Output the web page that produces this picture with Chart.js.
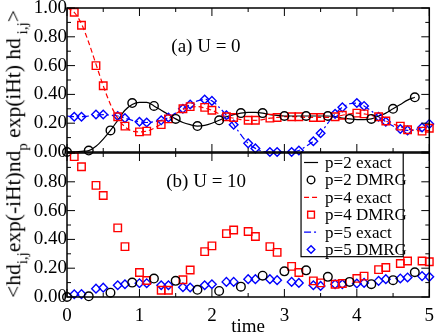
<!DOCTYPE html>
<html>
<head>
<meta charset="utf-8">
<script src="https://cdn.jsdelivr.net/npm/chart.js@4/dist/chart.umd.min.js"></script>
<style>
body { margin: 0; background: #fff; }
#wrap { position: relative; width: 436px; height: 335px; overflow: hidden; }
canvas { position: absolute; left: 0; top: 0; }
#ytitle {
    position: absolute; left: 14px; top: 154px;
    font-family: "Liberation Serif", serif; font-size: 21.5px; color: #000;
    white-space: nowrap; line-height: 1;
    transform: translate(-50%, -50%) rotate(-90deg);
}
#ytitle sub { font-size: 15px; vertical-align: -7px; line-height: 0; }
</style>
</head>
<body>
<div id="wrap">
    <canvas id="topChart" width="436" height="335"></canvas>
    <canvas id="bottomChart" width="436" height="335"></canvas>
    <div id="ytitle">&lt;hd<sub>i,j</sub>exp(-iHt)nd<sub>p</sub> exp(iHt) hd<sub>&nbsp;i,j</sub>&gt;</div>
</div>
<script>
// time grids
const tExact = [0,0.1,0.2,0.3,0.4,0.5,0.6,0.7,0.8,0.9,1.0,1.1,1.2,1.3,1.4,1.5,1.6,1.7,1.8,1.9,2.0,
    2.1,2.2,2.3,2.4,2.5,2.6,2.7,2.8,2.9,3.0,3.1,3.2,3.3,3.4,3.5,3.6,3.7,3.8,3.9,4.0,
    4.1,4.2,4.3,4.4,4.5,4.6,4.7,4.8,4.9,5.0];
const tCircle = [0,0.3,0.6,0.9,1.2,1.5,1.8,2.1,2.4,2.7,3.0,3.3,3.6,3.9,4.2,4.5,4.8];
const tPair = [0.1,0.2,0.4,0.5,0.7,0.8,1.0,1.1,1.3,1.4,1.6,1.7,1.9,2.0,2.2,2.3,2.5,2.6,
    2.8,2.9,3.1,3.2,3.4,3.5,3.7,3.8,4.0,4.1,4.3,4.4,4.6,4.7,4.9,5.0];

// (a) U = 0
const p2ExactA = [0,0,0.005,0.01,0.04,0.09,0.15,0.22,0.29,0.33,0.345,0.345,0.32,0.29,0.26,0.23,
    0.205,0.19,0.18,0.185,0.2,0.22,0.245,0.26,0.27,0.275,0.275,0.27,0.26,0.255,0.25,0.25,0.25,
    0.25,0.25,0.25,0.25,0.245,0.235,0.23,0.225,0.225,0.23,0.25,0.27,0.3,0.33,0.36,0.38];
const p4ExactA = [1.0,0.97,0.89,0.76,0.61,0.46,0.33,0.235,0.175,0.145,0.14,0.145,0.165,0.195,
    0.23,0.265,0.295,0.31,0.315,0.305,0.29,0.265,0.245,0.235,0.225,0.22,0.22,0.225,0.235,0.24,
    0.245,0.245,0.245,0.24,0.24,0.24,0.24,0.245,0.255,0.265,0.27,0.265,0.255,0.24,0.215,0.195,
    0.175,0.16,0.15,0.145,0.15];
const p5ExactA = [0.25,0.245,0.245,0.25,0.255,0.26,0.255,0.25,0.235,0.22,0.21,0.205,0.21,0.22,
    0.24,0.27,0.3,0.33,0.355,0.365,0.355,0.31,0.255,0.19,0.12,0.06,0.025,0.005,0,0,0,0,0.01,
    0.04,0.075,0.13,0.2,0.265,0.31,0.335,0.34,0.32,0.285,0.245,0.21,0.18,0.16,0.15,0.155,0.17,0.195];
const p2DmrgA = [0,0.01,0.15,0.34,0.32,0.23,0.18,0.22,0.27,0.27,0.25,0.25,0.25,0.23,0.23,0.3,0.38];
const p4DmrgA = [0.97,0.88,0.6,0.46,0.245,0.18,0.14,0.145,0.19,0.23,0.3,0.315,0.31,0.29,0.245,0.24,
    0.22,0.22,0.235,0.24,0.245,0.245,0.24,0.24,0.245,0.255,0.27,0.265,0.245,0.215,0.18,0.155,0.145,0.165];
const p5DmrgA = [0.245,0.245,0.26,0.26,0.25,0.235,0.21,0.205,0.22,0.24,0.3,0.33,0.365,0.355,0.255,0.19,
    0.06,0.025,0,0,0,0.01,0.075,0.13,0.265,0.31,0.34,0.32,0.245,0.21,0.16,0.15,0.17,0.195];

// (b) U = 10
const p2DmrgB = [0,0.005,0.03,0.1,0.128,0.112,0.05,0.042,0.072,0.148,0.178,0.185,0.14,0.105,0.089,0.117,0.172];
const p4DmrgB = [0.975,0.905,0.775,0.705,0.48,0.35,0.17,0.115,0.047,0.047,0.12,0.187,0.315,0.355,0.44,0.465,
    0.455,0.42,0.35,0.31,0.213,0.17,0.112,0.098,0.089,0.094,0.129,0.145,0.19,0.205,0.233,0.25,0.25,0.245];
const p5DmrgB = [0.019,0.02,0.058,0.065,0.082,0.089,0.096,0.096,0.082,0.082,0.068,0.066,0.082,0.089,0.105,0.105,
    0.124,0.124,0.124,0.117,0.105,0.098,0.082,0.077,0.089,0.089,0.094,0.098,0.112,0.124,0.129,0.136,0.145,0.14];

const legendLabels = ['p=2 exact', 'p=2 DMRG', 'p=4 exact', 'p=4 DMRG', 'p=5 exact', 'p=5 DMRG'];

Chart.defaults.font.family = '"Liberation Serif", serif';
Chart.defaults.font.size = 19;
Chart.defaults.color = '#000';

const BLACK = '#000000', RED = '#ff0000', BLUE = '#0000ff';
const styles = [
    { type: 'line', color: BLACK, dash: [] },
    { type: 'point', color: BLACK, point: 'circle', r: 4.3 },
    { type: 'line', color: RED, dash: [5, 3] },
    { type: 'point', color: RED, point: 'rect', r: 5.3 },
    { type: 'line', color: BLUE, dash: [7, 3, 2, 3] },
    { type: 'point', color: BLUE, point: 'rectRot', r: 4.3 }
];

function xy(ts, vs) {
    return vs.map((v, i) => ({ x: ts[i], y: v }));
}
function exactSet(label, vals, st) {
    return {
        label, data: xy(tExact, vals), borderColor: st.color, borderWidth: 1.2,
        borderDash: st.dash, pointRadius: 0, cubicInterpolationMode: 'monotone',
        fill: false, clip: false, order: 2
    };
}
function dmrgSet(label, ts, vals, st) {
    return {
        label, data: xy(ts, vals), showLine: false, pointStyle: st.point, pointRadius: st.r,
        pointBorderColor: st.color, pointBackgroundColor: 'rgba(0,0,0,0)', pointBorderWidth: 1.4,
        clip: false, order: 1
    };
}

// box frame with inward ticks on all four sides
const framePlugin = {
    id: 'frame',
    afterDatasetsDraw(chart, args, opts) {
        const { ctx, chartArea: a, scales: { x, y } } = chart;
        ctx.save();
        ctx.strokeStyle = '#000';
        ctx.lineWidth = 1;
        const seg = (x1, y1, x2, y2) => { ctx.beginPath(); ctx.moveTo(x1, y1); ctx.lineTo(x2, y2); ctx.stroke(); };
        for (let k = 0; k <= 10; k++) {
            const px = x.getPixelForValue(k * 0.5);
            const len = k % 2 === 0 ? 8 : 4;
            seg(px, a.bottom, px, a.bottom - len);
            seg(px, a.top, px, a.top + len);
        }
        for (let k = 0; k <= 10; k++) {
            const py = y.getPixelForValue(k * 0.1);
            const len = k % 2 === 0 ? 8 : 4;
            seg(a.left, py, a.left + len, py);
            seg(a.right, py, a.right - len, py);
        }
        ctx.lineWidth = 1.5;
        ctx.strokeRect(a.left, a.top, a.right - a.left, a.bottom - a.top);
        if (opts.label) {
            ctx.font = '19px "Liberation Serif"';
            ctx.fillStyle = '#000';
            ctx.textBaseline = 'middle';
            ctx.fillText(opts.label.text, x.getPixelForValue(opts.label.x), y.getPixelForValue(opts.label.y));
        }
        ctx.restore();
    }
};

// legend box inside panel (b)
const legendPlugin = {
    id: 'boxLegend',
    afterDraw(chart, args, opts) {
        if (!opts.show) return;
        const { ctx, scales: { x, y } } = chart;
        const left = x.getPixelForValue(3.23), right = x.getPixelForValue(4.64);
        const top = y.getPixelForValue(1.0), bottom = y.getPixelForValue(0.28);
        ctx.save();
        ctx.fillStyle = '#fff';
        ctx.fillRect(left, top, right - left, bottom - top);
        ctx.strokeStyle = '#000';
        ctx.lineWidth = 1.2;
        ctx.strokeRect(left, top, right - left, bottom - top);
        ctx.font = '17px "Liberation Serif"';
        ctx.textBaseline = 'middle';
        legendLabels.forEach((txt, i) => {
            const st = styles[i];
            const ry = top + 9.5 + i * 17.4;
            const cx = left + 10;
            if (st.type === 'line') {
                ctx.strokeStyle = st.color;
                ctx.lineWidth = 1.2;
                ctx.setLineDash(st.dash);
                ctx.beginPath(); ctx.moveTo(cx - 7, ry); ctx.lineTo(cx + 7, ry); ctx.stroke();
                ctx.setLineDash([]);
            } else {
                ctx.strokeStyle = st.color;
                ctx.fillStyle = 'rgba(0,0,0,0)';
                ctx.lineWidth = 1.4;
                Chart.helpers.drawPoint(ctx, { pointStyle: st.point, radius: st.r - 0.5, borderWidth: 1.4 }, cx, ry);
            }
            ctx.fillStyle = '#000';
            ctx.fillText(txt, left + 24, ry + 1);
        });
        ctx.restore();
    }
};

function yAxis(hideTop) {
    return {
        min: 0, max: 1,
        grid: { display: false, drawTicks: false },
        border: { display: false },
        ticks: {
            stepSize: 0.2, padding: 0,
            callback: v => (hideTop && v > 0.99) ? '' : v.toFixed(2)
        },
        afterFit(scale) { scale.width = 67; scale.paddingTop = 0; scale.paddingBottom = 0; }
    };
}

new Chart(document.getElementById('topChart'), {
    type: 'line',
    data: {
        datasets: [
            exactSet('p=2 exact', p2ExactA, styles[0]),
            exactSet('p=4 exact', p4ExactA, styles[2]),
            exactSet('p=5 exact', p5ExactA, styles[4]),
            dmrgSet('p=2 DMRG', tCircle, p2DmrgA, styles[1]),
            dmrgSet('p=4 DMRG', tPair, p4DmrgA, styles[3]),
            dmrgSet('p=5 DMRG', tPair, p5DmrgA, styles[5])
        ]
    },
    options: {
        responsive: false, animation: false,
        layout: { padding: { top: 8, right: 5, bottom: 183, left: 0 } },
        scales: {
            x: { type: 'linear', min: 0, max: 5, display: false },
            y: yAxis(false)
        },
        plugins: {
            legend: { display: false }, tooltip: { enabled: false },
            frame: { label: { text: '(a) U = 0', x: 1.44, y: 0.73 } }
        }
    },
    plugins: [framePlugin]
});

new Chart(document.getElementById('bottomChart'), {
    type: 'line',
    data: {
        datasets: [
            dmrgSet('p=2 DMRG', tCircle, p2DmrgB, styles[1]),
            dmrgSet('p=4 DMRG', tPair, p4DmrgB, styles[3]),
            dmrgSet('p=5 DMRG', tPair, p5DmrgB, styles[5])
        ]
    },
    options: {
        responsive: false, animation: false,
        layout: { padding: { top: 153, right: 5, bottom: 0, left: 0 } },
        scales: {
            x: {
                type: 'linear', min: 0, max: 5,
                grid: { display: false, drawTicks: false },
                border: { display: false },
                ticks: { stepSize: 1, padding: 8 },
                title: { display: true, text: 'time', font: { lineHeight: 0.8 }, padding: { top: 0, bottom: 0 } },
                afterFit(scale) { scale.height = 38; scale.paddingLeft = 0; scale.paddingRight = 0; }
            },
            y: yAxis(true)
        },
        plugins: {
            legend: { display: false }, tooltip: { enabled: false },
            frame: { label: { text: '(b) U = 10', x: 1.37, y: 0.8 } },
            boxLegend: { show: true }
        }
    },
    plugins: [framePlugin, legendPlugin]
});
</script>
</body>
</html>
